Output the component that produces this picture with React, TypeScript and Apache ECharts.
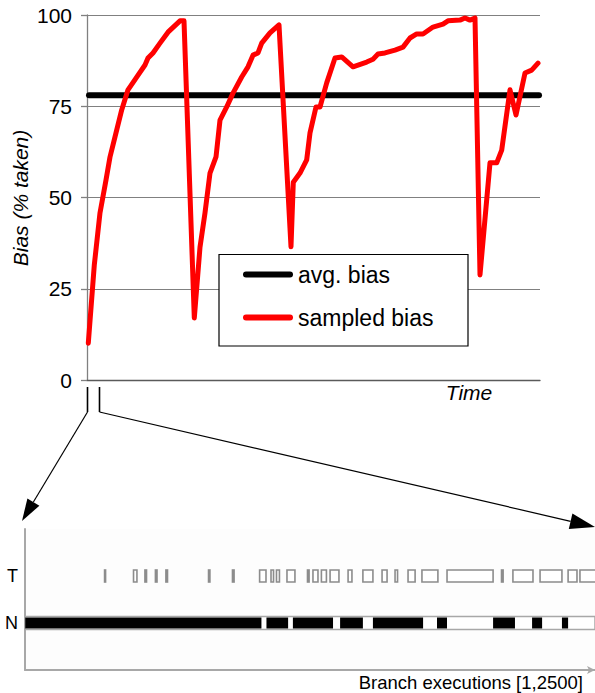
import React, { useEffect, useRef } from 'react';
import * as echarts from 'echarts';

// ---- top chart data ----
const biasTicks = [0, 25, 50, 75, 100];
const avgBias = 78;
const timeRange = [0, 453];
const sampledTime = [1.3, 7.3, 13, 19, 23, 28, 34.7, 41, 49.7, 58, 61, 66, 73, 81, 93, 97, 107.3, 113, 118, 123, 129, 133, 139.7, 146, 154.7, 161, 166, 171, 174.7, 183, 192, 204, 206.3, 213, 219.7, 223, 229, 233, 239.7, 248, 254.7, 266, 279.7, 286, 291, 298, 308, 316, 323, 329.7, 336, 346, 356, 361, 373, 378, 383, 388, 393, 403, 409.7, 414.7, 423, 429, 438, 444.7, 451];
const sampledBias = [10.1, 31.5, 45.8, 54.8, 61.1, 66.6, 74, 79.5, 83, 86.3, 88.2, 89.6, 92.3, 95.3, 98.4, 98.4, 17, 36.4, 45.8, 56.7, 61.1, 71.2, 74.8, 78.6, 83, 85.8, 89, 89.6, 92.3, 95.1, 97.3, 36.5, 54.2, 56.7, 60.3, 67.7, 74.8, 74.8, 81.4, 88.2, 88.5, 85.8, 87.1, 87.9, 89.3, 89.6, 90.4, 91.2, 93.7, 94.8, 94.8, 96.7, 97.5, 98.4, 98.6, 99.2, 98.6, 99.2, 28.8, 59.5, 59.5, 63, 79.5, 72.6, 84.1, 84.9, 86.8];

// ---- bottom timeline data (branch execution index) ----
const totalExecutions = 2500;
const rowLabels = ['', 'N', 'T', ''];
const takenRuns = [
  [349, 353], [476, 491], [526, 533], [572, 579], [618, 625], [805, 811], [910, 917],
  [1029, 1057], [1079, 1090], [1103, 1116], [1149, 1184], [1239, 1246], [1263, 1285],
  [1300, 1322], [1338, 1377], [1417, 1434], [1482, 1526], [1566, 1588], [1623, 1634],
  [1680, 1711], [1741, 1811], [1851, 2053], [2090, 2097], [2140, 2228], [2259, 2355],
  [2382, 2421], [2434, 2510],
];
const notTakenRuns = [
  [1, 1037], [1059, 1154], [1175, 1351], [1382, 1482], [1526, 1746], [1807, 1851],
  [2053, 2149], [2224, 2268], [2355, 2382],
];

const FONT = "'Liberation Sans', Arial, Helvetica, sans-serif";
const ROUND_ICON = 'path://M3,0 H47 A3,3 0 0 1 47,6 H3 A3,3 0 0 1 3,0 Z';

export default function App() {
  const ref = useRef<HTMLDivElement>(null);

  useEffect(() => {
    const chart = echarts.init(ref.current as HTMLDivElement, null, { renderer: 'svg' });

    const runRenderer = (h: number, kind: string) => (params: any, api: any) => {
      const s = api.coord([api.value(0), api.value(2)]);
      const e = api.coord([api.value(1), api.value(2)]);
      const w = Math.max(e[0] - s[0], 1);
      let style: any;
      if (kind === 'band') style = { fill: '#fff', stroke: '#a8a8a8', lineWidth: 1.5 };
      else if (kind === 'N') style = { fill: '#000' };
      else style = { fill: '#fff', stroke: '#8c8c8c', lineWidth: 1.6 };
      return {
        type: 'rect',
        shape: { x: s[0], y: s[1] - h / 2, width: w, height: h },
        style,
      };
    };

    const option: any = {
      animation: false,
      backgroundColor: '#fff',
      grid: [
        { left: 87, top: 15, width: 453, height: 365 },
        { left: 25, top: 529, width: 570, height: 141, show: true, backgroundColor: '#fdfdfd', borderWidth: 0 },
      ],
      xAxis: [
        {
          type: 'value', gridIndex: 0, min: timeRange[0], max: timeRange[1],
          axisLine: { show: true, lineStyle: { color: '#5a5a5a', width: 1.3 } },
          axisTick: { show: false }, axisLabel: { show: false }, splitLine: { show: false },
        },
        {
          type: 'value', gridIndex: 1, min: 0, max: totalExecutions,
          axisLine: { show: true, symbol: ['none', 'arrow'], symbolSize: [6, 8], lineStyle: { color: '#a8a8a8', width: 2 } },
          axisTick: { show: false }, axisLabel: { show: false }, splitLine: { show: false },
        },
      ],
      yAxis: [
        {
          type: 'value', gridIndex: 0, min: biasTicks[0], max: biasTicks[biasTicks.length - 1], interval: 25,
          axisLine: { show: true, lineStyle: { color: '#808080', width: 1.3 } },
          axisTick: { show: true, length: 6, lineStyle: { color: '#808080', width: 1.3 } },
          axisLabel: { fontSize: 21, color: '#000', margin: 15, fontFamily: FONT },
          splitLine: { show: true, lineStyle: { color: '#808080', width: 1.2 } },
        },
        {
          type: 'value', gridIndex: 1, min: 0, max: 3, interval: 1,
          axisLine: { show: true, lineStyle: { color: '#a8a8a8', width: 2 } },
          axisTick: { show: false }, splitLine: { show: false },
          axisLabel: { fontSize: 18, color: '#000', margin: 7, fontFamily: FONT, formatter: (v: number) => rowLabels[v] ?? '' },
        },
      ],
      legend: {
        data: ['avg. bias', 'sampled bias'],
        orient: 'vertical', left: 243, top: 263, padding: 0,
        itemWidth: 50, itemHeight: 6, itemGap: 20, icon: ROUND_ICON,
        selectedMode: false, z: 6,
        textStyle: { fontSize: 23, color: '#000', fontFamily: FONT },
      },
      series: [
        {
          name: 'avg. bias', type: 'line', xAxisIndex: 0, yAxisIndex: 0,
          data: [[2, avgBias], [452, avgBias]], symbol: 'none', clip: false, z: 3,
          lineStyle: { color: '#000', width: 6, cap: 'round' }, itemStyle: { color: '#000' },
        },
        {
          name: 'sampled bias', type: 'line', xAxisIndex: 0, yAxisIndex: 0,
          data: sampledTime.map((t, i) => [t, sampledBias[i]]), symbol: 'none', clip: false, z: 4,
          lineStyle: { color: '#ff0000', width: 5, cap: 'round', join: 'round' }, itemStyle: { color: '#ff0000' },
        },
        {
          name: 'nBand', type: 'custom', xAxisIndex: 1, yAxisIndex: 1, clip: true,
          encode: { x: [0, 1], y: 2 }, data: [[0, totalExecutions, 1]],
          renderItem: runRenderer(13, 'band'), z: 2,
        },
        {
          name: 'notTaken', type: 'custom', xAxisIndex: 1, yAxisIndex: 1, clip: true,
          encode: { x: [0, 1], y: 2 }, data: notTakenRuns.map((r) => [r[0], r[1], 1]),
          renderItem: runRenderer(11, 'N'), z: 3,
        },
        {
          name: 'taken', type: 'custom', xAxisIndex: 1, yAxisIndex: 1, clip: true,
          encode: { x: [0, 1], y: 2 }, data: takenRuns.map((r) => [r[0], r[1], 2]),
          renderItem: runRenderer(12, 'T'), z: 3,
        },
      ],
      graphic: [
        {
          type: 'rect', z: 5, shape: { x: 219, y: 254.5, width: 249, height: 91.5 },
          style: { fill: '#fff', stroke: '#000', lineWidth: 1.2 },
        },
        {
          type: 'text', x: 20, y: 198, rotation: Math.PI / 2, z: 5,
          style: { text: 'Bias (% taken)', fontSize: 21, fontStyle: 'italic', fontFamily: FONT, fill: '#000', textAlign: 'center', textVerticalAlign: 'middle' },
        },
        {
          type: 'text', x: 469, y: 392, z: 5,
          style: { text: 'Time', fontSize: 21, fontStyle: 'italic', fontFamily: FONT, fill: '#000', textAlign: 'center', textVerticalAlign: 'middle' },
        },
        { type: 'line', z: 5, shape: { x1: 87.5, y1: 387, x2: 87.5, y2: 412 }, style: { stroke: '#000', lineWidth: 1.6 } },
        { type: 'line', z: 5, shape: { x1: 99.5, y1: 387, x2: 99.5, y2: 412 }, style: { stroke: '#000', lineWidth: 1.6 } },
        { type: 'line', z: 5, shape: { x1: 87.5, y1: 412, x2: 33.4, y2: 502 }, style: { stroke: '#000', lineWidth: 1.2 } },
        { type: 'polygon', z: 5, shape: { points: [[22, 521], [39.4, 505.7], [27.4, 498.5]] }, style: { fill: '#000' } },
        { type: 'line', z: 5, shape: { x1: 99.5, y1: 412, x2: 570.6, y2: 521.3 }, style: { stroke: '#000', lineWidth: 1.2 } },
        { type: 'polygon', z: 5, shape: { points: [[595, 527], [568.8, 529.1], [572.4, 513.5]] }, style: { fill: '#000' } },
        {
          type: 'text', x: 583, y: 682, z: 5,
          style: { text: 'Branch executions [1,2500]', fontSize: 18.5, fontFamily: FONT, fill: '#000', textAlign: 'right', textVerticalAlign: 'middle' },
        },
      ],
    };

    chart.setOption(option);
    return () => chart.dispose();
  }, []);

  return (
    <div
      ref={ref}
      style={{ position: 'fixed', left: 0, top: 0, width: 595, height: 693, background: '#fff' }}
    />
  );
}
